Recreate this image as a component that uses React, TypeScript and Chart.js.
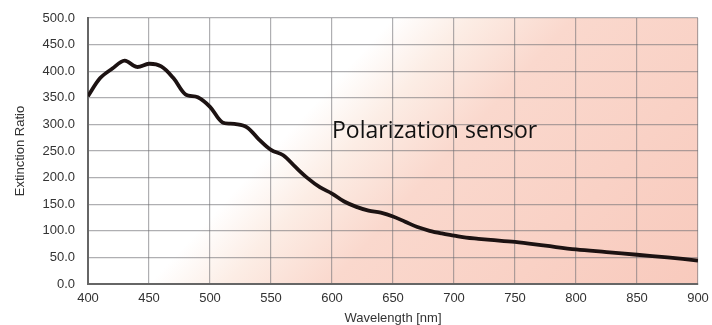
import React, { useEffect, useRef } from "react";
import { Chart, registerables } from "chart.js";

Chart.register(...registerables);

const wavelengths = [400, 410, 420, 430, 440, 450, 460, 470, 480, 490, 500, 510, 520, 530, 540, 550, 560, 570, 580, 590, 600, 610, 620, 630, 640, 650, 660, 670, 680, 690, 700, 710, 720, 730, 750, 775, 800, 825, 850, 875, 900];
const extinction = [353, 387, 405, 420, 408, 414, 409, 387, 356, 351, 333, 304, 301, 295, 272, 252, 242, 220, 199, 182, 170, 155, 145, 138, 134, 127, 117, 107, 100, 95, 91, 87, 85, 83, 79, 72, 65, 60, 55, 50, 44];
const annotationText = "Polarization sensor";
const annotationAt = [600, 275];
const xTitle = "Wavelength [nm]";
const yTitle = "Extinction Ratio";

const bgPlugin = {
  id: "bgGradient",
  beforeDraw(chart: any) {
    const { ctx, chartArea } = chart;
    if (!chartArea) return;
    const { left, top, right, bottom } = chartArea;
    const dx = 0.737, dy = 0.676;
    const s0 = 302, s1 = 706;
    const g = ctx.createLinearGradient(s0 * dx, s0 * dy, s1 * dx, s1 * dy);
    g.addColorStop(0, "rgb(255,255,255)");
    g.addColorStop(0.14, "rgb(252,237,229)");
    g.addColorStop(0.33, "rgb(250,216,205)");
    g.addColorStop(1, "rgb(248,202,189)");
    ctx.save();
    ctx.fillStyle = g;
    ctx.fillRect(left, top, right - left, bottom - top);
    ctx.restore();
  },
  afterDatasetsDraw(chart: any) {
    const { ctx, scales } = chart;
    const x = scales.x.getPixelForValue(annotationAt[0]);
    const y = scales.y.getPixelForValue(annotationAt[1]);
    ctx.save();
    ctx.font = '23px "Open Sans"';
    ctx.fillStyle = "#111";
    ctx.textAlign = "left";
    ctx.textBaseline = "alphabetic";
    ctx.fillText(annotationText, x, y);
    ctx.restore();
  },
};

export default function App() {
  const ref = useRef<HTMLCanvasElement | null>(null);
  useEffect(() => {
    if (!ref.current) return;
    const tickFont = { family: '"Liberation Sans", Arial, sans-serif', size: 13 };
    const chart = new Chart(ref.current, {
      type: "line",
      data: {
        datasets: [
          {
            data: wavelengths.map((w, i) => ({ x: w, y: extinction[i] })),
            borderColor: "#1c1212",
            borderWidth: 3.8,
            pointRadius: 0,
            tension: 0.35,
            fill: false,
          },
        ],
      },
      options: {
        animation: false,
        responsive: false,
        maintainAspectRatio: false,
        layout: { padding: { top: 18, right: 14, left: 0, bottom: 0 } },
        plugins: { legend: { display: false }, tooltip: { enabled: false } },
        scales: {
          x: {
            type: "linear",
            min: 400,
            max: 900,
            ticks: { stepSize: 50, color: "#333", font: tickFont, padding: 7, maxRotation: 0 },
            grid: { color: "rgba(110,110,115,0.55)", lineWidth: 1.2, drawTicks: false },
            border: { color: "#666", width: 2 },
            title: {
              display: true,
              text: xTitle,
              color: "#333",
              font: { family: '"Liberation Sans", Arial, sans-serif', size: 13, lineHeight: 1 },
              padding: { top: 0, bottom: 0 },
            },
            afterFit: (s: any) => { s.height = 41; s.paddingLeft = 0; s.paddingRight = 0; },
          },
          y: {
            min: 0,
            max: 500,
            ticks: { stepSize: 50, color: "#333", font: tickFont, padding: 13, callback: (v: any) => Number(v).toFixed(1) },
            grid: { color: "rgba(110,110,115,0.55)", lineWidth: 1.2, drawTicks: false },
            border: { color: "#666", width: 2 },
            title: {
              display: true,
              text: yTitle,
              color: "#333",
              font: { family: '"Liberation Sans", Arial, sans-serif', size: 13, lineHeight: 1 },
              padding: { top: 14, bottom: 0 },
            },
            afterFit: (s: any) => { s.width = 88; s.paddingTop = 0; s.paddingBottom = 0; },
          },
        },
      },
      plugins: [bgPlugin],
    });
    return () => chart.destroy();
  }, []);
  return (
    <div style={{ position: "absolute", left: 0, top: 0, width: 712, height: 325, background: "#fff" }}>
      <canvas ref={ref} width={712} height={325} />
    </div>
  );
}
